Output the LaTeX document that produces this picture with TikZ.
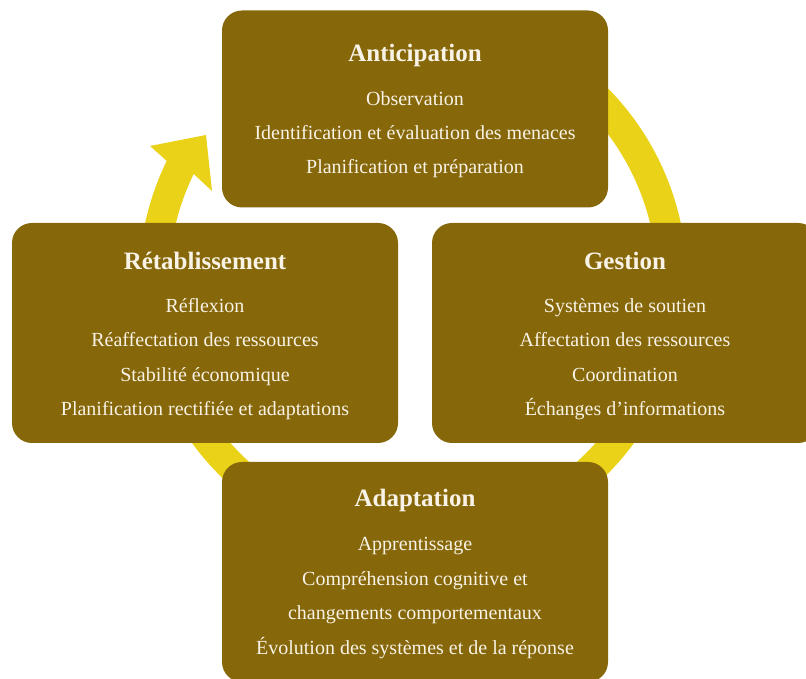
\documentclass[tikz,border=0pt]{standalone}
\usepackage{fontspec}
\setmainfont{Liberation Serif}
\definecolor{boxbrown}{HTML}{866709}
\definecolor{ringyellow}{HTML}{EAD219}
\definecolor{cream}{HTML}{F8F3E6}
\tikzset{
  phasebox/.style={fill=boxbrown, draw=none, rounded corners=20pt, minimum width=386pt, inner sep=0pt},
  titletext/.style={anchor=base, inner sep=0pt, text=cream, font=\fontsize{25}{30}\selectfont\bfseries},
  itemtext/.style={anchor=base, inner sep=0pt, text=cream, font=\fontsize{20}{24}\selectfont},
  ring/.style={draw=ringyellow, line width=30pt, line cap=butt}
}
\begin{document}
\begin{tikzpicture}[x=1pt, y=1pt]
\useasboundingbox (0,0) rectangle (806,679);
\clip (0,0) rectangle (806,679);
% ring with arrow
\coordinate (ringstart) at ([shift={(413,398)}]60:259);
\draw[ring] (ringstart) arc[start angle=60, end angle=-207, radius=259pt];
\coordinate (tip) at (206,544);
\coordinate (barbL) at (150,533);
\coordinate (notchL) at ([shift={(413,398)}]154:274);
\coordinate (notchR) at ([shift={(413,398)}]154:244);
\coordinate (barbR) at (212,488);
\fill[ringyellow] (tip) -- (barbL) -- (notchL) -- (notchR) -- (barbR) -- cycle;
% boxes
\node[phasebox, minimum height=197pt] (antbox) at (415,570) {};
\node[phasebox, minimum height=220pt] (retbox) at (205,346) {};
\node[phasebox, minimum height=220pt] (gesbox) at (625,346) {};
\node[phasebox, minimum height=220pt] (adabox) at (415,107) {};
% Anticipation
\node[titletext] (antT) at (415,617) {Anticipation};
\node[itemtext] (ant1) at (415,573) {Observation};
\node[itemtext] (ant2) at (415,539.5) {Identification et évaluation des menaces};
\node[itemtext] (ant3) at (415,505) {Planification et préparation};
% Retablissement
\node[titletext] (retT) at (205,409) {Rétablissement};
\node[itemtext] (ret1) at (205,366) {Réflexion};
\node[itemtext] (ret2) at (205,332) {Réaffectation des ressources};
\node[itemtext] (ret3) at (205,297.5) {Stabilité économique};
\node[itemtext] (ret4) at (205,263) {Planification rectifiée et adaptations};
% Gestion
\node[titletext] (gesT) at (625,409) {Gestion};
\node[itemtext] (ges1) at (625,366) {Systèmes de soutien};
\node[itemtext] (ges2) at (625,332) {Affectation des ressources};
\node[itemtext] (ges3) at (625,297.5) {Coordination};
\node[itemtext] (ges4) at (625,263) {Échanges d’informations};
% Adaptation
\node[titletext] (adaT) at (415,172) {Adaptation};
\node[itemtext] (ada1) at (415,128) {Apprentissage};
\node[itemtext] (ada2) at (415,93) {Compréhension cognitive et};
\node[itemtext] (ada3) at (415,59) {changements comportementaux};
\node[itemtext] (ada4) at (415,24) {Évolution des systèmes et de la réponse};
\end{tikzpicture}
\end{document}
